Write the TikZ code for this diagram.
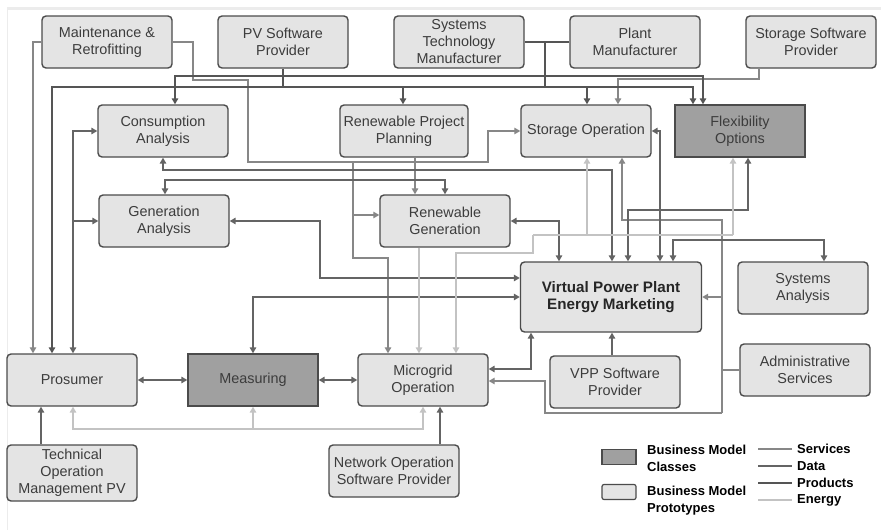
\documentclass[tikz,border=0pt]{standalone}
\usepackage{fontspec}
\setmainfont{Liberation Sans}
\usetikzlibrary{arrows.meta}
\definecolor{protofill}{RGB}{228,228,228}
\definecolor{classfill}{RGB}{160,160,160}
\definecolor{boxline}{RGB}{75,75,75}
\definecolor{boxtext}{RGB}{60,60,60}
\definecolor{svccol}{RGB}{135,135,135}
\definecolor{datcol}{RGB}{100,100,100}
\definecolor{prdcol}{RGB}{85,85,85}
\definecolor{nrgcol}{RGB}{195,195,195}
\newcommand\boxfont{\fontsize{14.4}{17}\selectfont}
\newcommand\vppfont{\fontsize{15.2}{17.5}\selectfont\bfseries}
\newcommand\legfont{\fontsize{13}{17}\selectfont\bfseries}
\tikzset{proto/.style={draw=boxline,fill=protofill,rounded corners=4pt,line width=1.4pt,
  minimum width=130,minimum height=52,align=center,inner sep=1pt,font=\boxfont,text=boxtext},
 classbox/.style={proto,fill=classfill,sharp corners},
 svc/.style={draw=svccol,line width=1.3pt},
 dat/.style={draw=datcol,line width=1.6pt},
 prd/.style={draw=prdcol,line width=1.9pt},
 nrg/.style={draw=nrgcol,line width=1.6pt},
 arr/.style={-{Triangle[length=6pt,width=6.5pt]}},
 biarr/.style={{Triangle[length=6pt,width=6.5pt]}-{Triangle[length=6pt,width=6.5pt]}},
 legtext/.style={anchor=west,align=left,inner sep=0pt,font=\legfont}}

\begin{document}
\begin{tikzpicture}[x=1pt,y=-1pt]
 \useasboundingbox (0,0) rectangle (881,530);
 \draw[gray!15,line width=3pt] (7,8.5) -- (881,8.5);
 \draw[gray!15,line width=1pt] (7,8.5) -- (7,530);
 % boxes
 \node[proto] (maint) at (107,42) {Maintenance \&\\Retrofitting};
 \node[proto] (pvsw) at (283,42) {PV Software\\Provider};
 \node[proto] (systech) at (459,42) {Systems\\Technology\\Manufacturer};
 \node[proto] (plant) at (635,42) {Plant\\Manufacturer};
 \node[proto] (storsw) at (811,42) {Storage Software\\Provider};
 \node[proto] (consum) at (163,131) {Consumption\\Analysis};
 \node[proto,minimum width=128] (planning) at (404,131) {Renewable Project\\Planning};
 \node[proto] (storop) at (586,131) {Storage Operation};
 \node[classbox] (flex) at (740,131) {Flexibility\\Options};
 \node[proto] (genan) at (164,221) {Generation\\Analysis};
 \node[proto] (rengen) at (445,221) {Renewable\\Generation};
 \node[proto,minimum width=181,minimum height=70,font=\vppfont,text=black!85] (vpp) at (611,297) {Virtual Power Plant\\Energy Marketing};
 \node[proto] (sysan) at (803,288) {Systems\\Analysis};
 \node[proto] (prosumer) at (72,380) {Prosumer};
 \node[classbox] (measuring) at (253,380) {Measuring};
 \node[proto] (microgrid) at (423,380) {Microgrid\\Operation};
 \node[proto] (vppsw) at (615,382) {VPP Software\\Provider};
 \node[proto] (admin) at (805,370) {Administrative\\Services};
 \node[proto,minimum height=56] (techop) at (72,473) {Technical\\Operation\\Management PV};
 \node[proto] (netop) at (394,471) {Network Operation\\Software Provider};

 % services
 \draw[svc,arr] (maint.west) -| (33,0 |- prosumer.north);
 \draw[svc,arr] (maint.east) -| (193,80) -| (248,162) -- (488,162) |- (storop.west);
 \draw[svc,arr] (353,162) |- ([yshift=6pt]rengen.west);
 \draw[svc,arr] (353,215) |- (388,258) -- (388,0 |- microgrid.north);
 \draw[svc,arr] (415,0 |- planning.south) -- (415,0 |- rengen.north);
 \draw[svc,arr] (759,0 |- storsw.south) |- (618,79) -- (618,0 |- storop.north);
 \draw[svc] (admin.west) -- (722,0 |- admin.west);
 \draw[svc,arr] (722,413) |- (622,220) -- (622,0 |- storop.south);
 \draw[svc,arr] (722,413) -| (545,381) -- (microgrid.east |- 0,381);
 \draw[svc,arr] (722,0 |- vpp.east) -- (vpp.east);

 % products
 \draw[prd] (283,0 |- pvsw.south) -- (283,87);
 \draw[prd] (systech.east) -- (plant.west);
 \draw[prd] (545,42) -- (545,87);
 \draw[prd,biarr] (175,0 |- consum.north) |- (703,76) -- (703,0 |- flex.north);
 \draw[prd,biarr] (52,0 |- prosumer.north) |- (693,87) -- (693,0 |- flex.north);
 \draw[prd,arr] (403,87) -- (403,0 |- planning.north);
 \draw[prd,arr] (587,87) -- (587,0 |- storop.north);

 % data
 \draw[dat,biarr] (73,0 |- prosumer.north) |- (consum.west);
 \draw[dat,arr] (73,0 |- genan.west) -- (genan.west);
 \draw[dat,biarr] (163,0 |- consum.south) |- (612,170) -- (612,0 |- vpp.north);
 \draw[dat,biarr] (165,0 |- genan.north) |- (445,180) -- (445,0 |- rengen.north);
 \draw[dat,biarr] (genan.east) -| (320,278) -- (vpp.west |- 0,278);
 \draw[dat,biarr] (measuring.north) |- (vpp.west);
 \draw[dat,biarr] (rengen.east) -| (559,0 |- vpp.north);
 \draw[dat,biarr] (748,0 |- flex.south) |- (628,210) -- (628,0 |- vpp.north);
 \draw[dat,biarr] (storop.east) -| (660,0 |- vpp.north);
 \draw[dat,biarr] (673,0 |- vpp.north) |- (824,240) -- (824,0 |- sysan.north);
 \draw[dat,arr] (612,0 |- vppsw.north) -- (612,0 |- vpp.south);
 \draw[dat,biarr] (microgrid.east |- 0,369) -| (531,0 |- vpp.south);
 \draw[dat,biarr] (prosumer.east) -- (measuring.west);
 \draw[dat,biarr] (measuring.east) -- (microgrid.west);
 \draw[dat,arr] (41,0 |- techop.north) -- (41,0 |- prosumer.south);
 \draw[dat,arr] (440,0 |- netop.north) -- (440,0 |- microgrid.south);

 % energy
 \draw[nrg,arr] (419,0 |- rengen.south) -- (419,0 |- microgrid.north);
 \draw[nrg,arr] (533,235) |- (456,253) -- (456,0 |- microgrid.north);
 \draw[nrg] (533,235) -- (733,235);
 \draw[nrg,arr] (587,235) -- (587,0 |- storop.south);
 \draw[nrg,arr] (733,235) -- (733,0 |- flex.south);
 \draw[nrg,biarr] (73,0 |- prosumer.south) |- (423,429) -- (423,0 |- microgrid.south);
 \draw[nrg,arr] (253,429) -- (measuring.south);

 % legend
 \node[classbox,minimum width=34,minimum height=15,line width=1.2pt] (legcls) at (619,457) {};
 \node[proto,minimum width=34,minimum height=15,line width=1.2pt,rounded corners=2pt] (legproto) at (619,492) {};
 \node[legtext] (legclstext) at (647,458) {Business Model\\Classes};
 \node[legtext] (legprototext) at (647,501) {Business Model\\Prototypes};
 \foreach \y/\st/\name in {449/svc/Services,466/dat/Data,483/prd/Products,500/nrg/Energy}{
  \draw[\st] (758,\y) -- (792,\y);
  \node[legtext] at (797,\y) {\name};
 }
\end{tikzpicture}
\end{document}
